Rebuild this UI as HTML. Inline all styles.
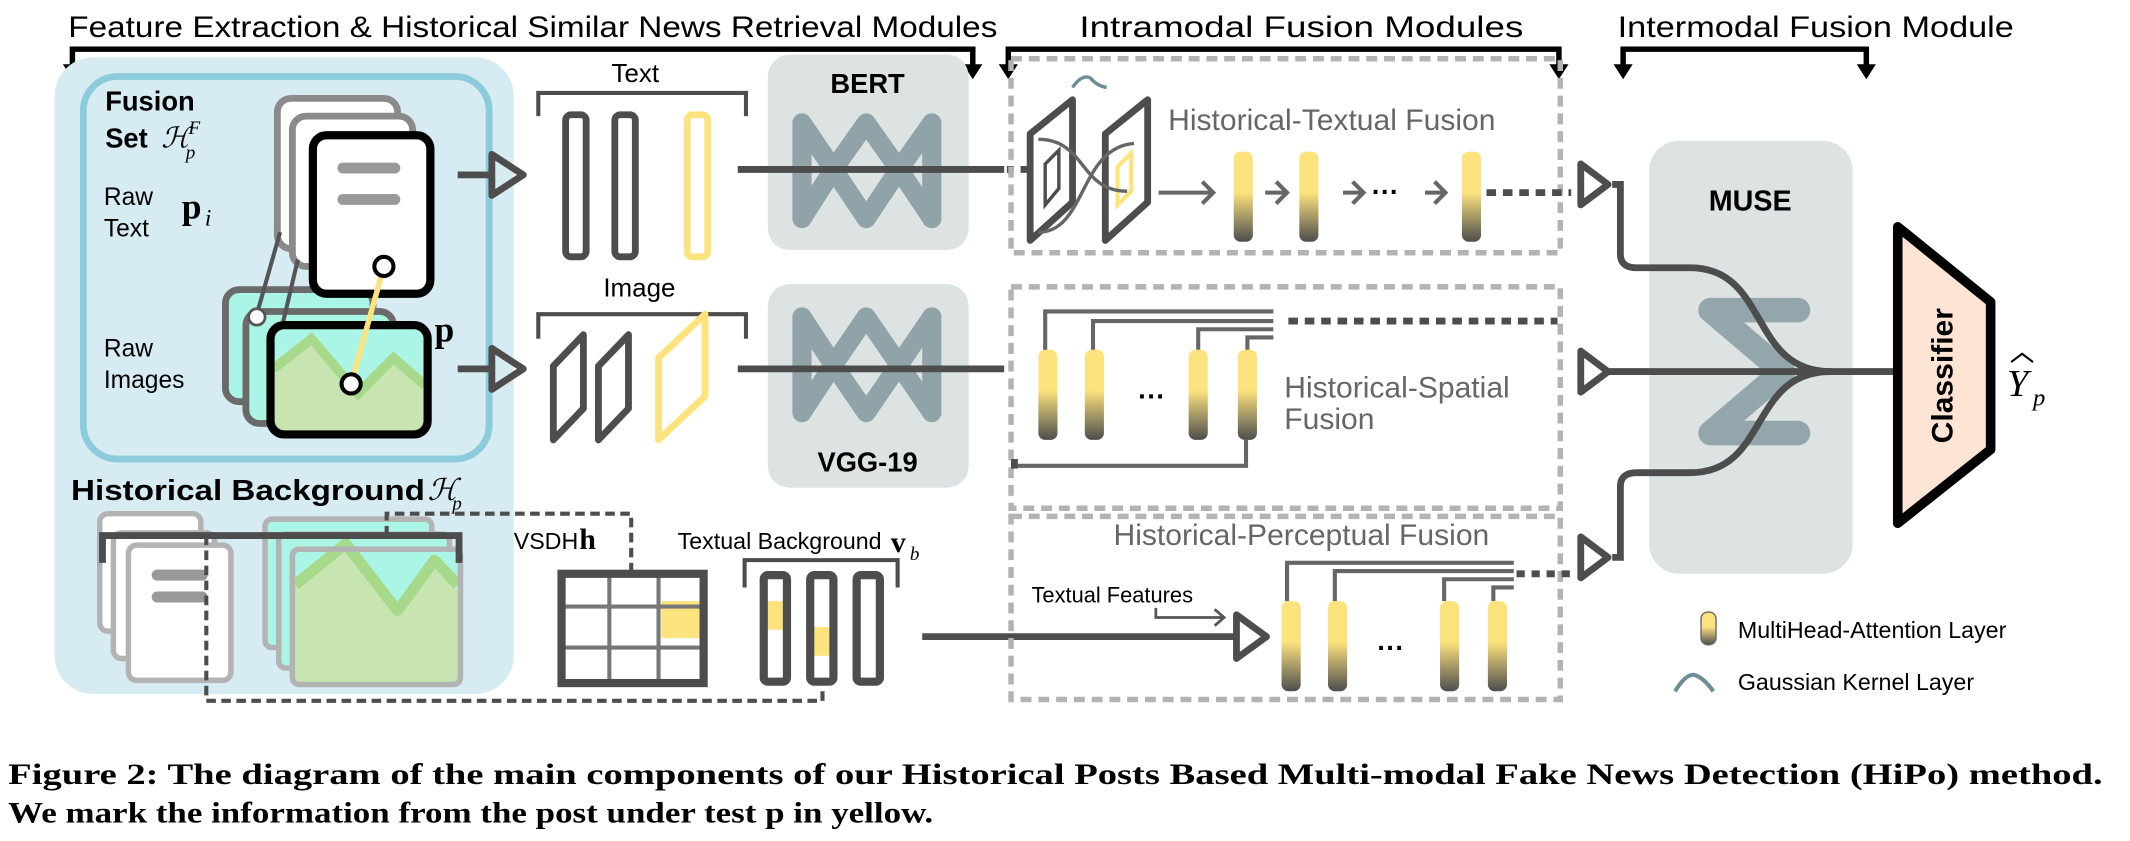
<!DOCTYPE html>
<html><head><meta charset="utf-8"><style>
html,body{margin:0;padding:0;background:#fff;}
svg{display:block;}
text{font-family:"Liberation Sans",sans-serif;}
.s{font-family:"Liberation Serif",serif;}
</style></head><body>
<svg width="2130" height="841" viewBox="0 0 1559 615.6" preserveAspectRatio="none" xmlns="http://www.w3.org/2000/svg">
<defs>
<linearGradient id="mh" x1="0" y1="0" x2="0" y2="1">
<stop offset="0" stop-color="#fde37d"/><stop offset="0.45" stop-color="#fde37d"/><stop offset="1" stop-color="#4d4d4d"/>
</linearGradient>
<g id="bar"><rect x="-7" y="0" width="14" height="66" rx="5" fill="url(#mh)"/></g>
</defs>

<!-- header texts -->
<text x="50" y="27" font-size="22" textLength="680" lengthAdjust="spacingAndGlyphs">Feature Extraction &amp; Historical Similar News Retrieval Modules</text>
<text x="790" y="27" font-size="22" textLength="325" lengthAdjust="spacingAndGlyphs">Intramodal Fusion Modules</text>
<text x="1184" y="27" font-size="22" textLength="290" lengthAdjust="spacingAndGlyphs">Intermodal Fusion Module</text>
<g stroke="#000" stroke-width="4" fill="none">
<polyline points="53,52 53,36 712,36 712,52"/>
<polyline points="738,52 738,36 1141,36 1141,52"/>
<polyline points="1188,52 1188,36 1366,36 1366,52"/>
</g>
<g fill="#000">
<polygon points="46,47 60,47 53,58"/><polygon points="705,47 719,47 712,58"/>
<polygon points="731,47 745,47 738,58"/><polygon points="1134,47 1148,47 1141,58"/>
<polygon points="1181,47 1195,47 1188,58"/><polygon points="1359,47 1373,47 1366,58"/>
</g>

<!-- left big panel -->
<rect x="40" y="42" width="336" height="466" rx="28" fill="#d7ecf2"/>
<rect x="61" y="56" width="297" height="280" rx="25" fill="none" stroke="#8ccbdc" stroke-width="5"/>
<text x="77" y="81" font-size="20" font-weight="bold">Fusion</text>
<text x="77" y="108" font-size="20" font-weight="bold">Set</text>
<text x="118" y="108" font-size="21" class="s" font-style="italic">ℋ</text>
<text x="138" y="98" font-size="14" class="s" font-style="italic">F</text>
<text x="136" y="116" font-size="14" class="s" font-style="italic">p</text>
<text x="76" y="150" font-size="18">Raw</text>
<text x="76" y="173" font-size="18">Text</text>
<text x="76" y="261" font-size="18">Raw</text>
<text x="76" y="284" font-size="18">Images</text>
<text x="133" y="160" font-size="26" class="s" font-weight="bold">p</text>
<text x="150" y="165" font-size="17" class="s" font-style="italic">i</text>

<!-- docs -->
<rect x="203" y="72" width="88" height="110" rx="10" fill="#fff" stroke="#8a8a8a" stroke-width="5"/>
<rect x="214" y="85" width="88" height="110" rx="10" fill="#fff" stroke="#8a8a8a" stroke-width="5"/>
<!-- images stack -->
<rect x="165" y="212" width="108" height="82" rx="10" fill="#aaf5e6" stroke="#6a6a6a" stroke-width="5"/>
<rect x="180" y="228" width="108" height="82" rx="10" fill="#aaf5e6" stroke="#6a6a6a" stroke-width="5"/>
<line x1="188" y1="230" x2="205" y2="170" stroke="#555" stroke-width="3"/>
<line x1="205" y1="245" x2="218" y2="190" stroke="#555" stroke-width="3"/>
<circle cx="188" cy="232" r="6" fill="#fff" stroke="#555" stroke-width="2"/>
<rect x="198" y="238" width="115" height="80" rx="10" fill="#aaf5e6"/>
<polygon points="200,275 228,250 262,290 288,262 311,285 311,316 200,316" fill="#c8e4b0"/>
<polyline points="200,270 228,248 262,288 288,262 311,282" fill="none" stroke="#a6d98a" stroke-width="7"/>
<rect x="198" y="238" width="115" height="80" rx="10" fill="none" stroke="#000" stroke-width="6"/>
<rect x="229" y="99" width="86" height="116" rx="10" fill="#fff" stroke="#000" stroke-width="6"/>
<line x1="251" y1="123" x2="289" y2="123" stroke="#999" stroke-width="8" stroke-linecap="round"/>
<line x1="251" y1="146" x2="289" y2="146" stroke="#999" stroke-width="8" stroke-linecap="round"/>
<line x1="281" y1="195" x2="257" y2="281" stroke="#fde37d" stroke-width="4"/>
<circle cx="281" cy="195" r="7" fill="#fff" stroke="#000" stroke-width="3"/>
<circle cx="257" cy="281" r="7" fill="#fff" stroke="#000" stroke-width="3"/>
<text x="318" y="250" font-size="26" class="s" font-weight="bold">p</text>

<!-- arrows left -->
<g stroke="#4d4d4d" stroke-width="5" fill="none" stroke-linejoin="round">
<line x1="335" y1="128" x2="360" y2="128"/><polygon points="360,113 383,128 360,143"/>
<line x1="335" y1="270" x2="360" y2="270"/><polygon points="360,255 383,270 360,285"/>
</g>

<!-- text bars -->
<text x="465" y="60" font-size="19" text-anchor="middle">Text</text>
<polyline points="394,85 394,68 546,68 546,85" fill="none" stroke="#4d4d4d" stroke-width="3"/>
<rect x="414" y="84" width="15" height="104" rx="4" fill="#fff" stroke="#4d4d4d" stroke-width="5"/>
<rect x="450" y="84" width="15" height="104" rx="4" fill="#fff" stroke="#4d4d4d" stroke-width="5"/>
<rect x="503" y="84" width="15" height="104" rx="4" fill="#fff" stroke="#fde37d" stroke-width="5"/>
<text x="468" y="217" font-size="19" text-anchor="middle">Image</text>
<polyline points="394,248 394,230 546,230 546,248" fill="none" stroke="#4d4d4d" stroke-width="3"/>
<g stroke-width="5" fill="#fff" stroke-linejoin="round">
<polygon points="405,268 427,245 427,299 405,322" stroke="#4d4d4d"/>
<polygon points="438,268 460,245 460,299 438,322" stroke="#4d4d4d"/>
<polygon points="482,262 516,230 516,290 482,322" stroke="#fde37d"/>
</g>

<!-- BERT / VGG -->
<rect x="562" y="40" width="147" height="143" rx="16" fill="#dde3e2"/>
<rect x="562" y="208" width="147" height="149" rx="16" fill="#dde3e2"/>
<text x="635" y="68" font-size="20" font-weight="bold" text-anchor="middle">BERT</text>
<text x="635" y="345" font-size="20" font-weight="bold" text-anchor="middle">VGG-19</text>
<g stroke="#8fa3a8" stroke-width="14" fill="none" stroke-linecap="round" stroke-linejoin="round">
<polyline points="587,90 587,160"/><polyline points="682,90 682,160"/>
<polyline points="587,90 610,124 634,90 658,124 682,90"/>
<polyline points="587,160 610,124 634,160 658,124 682,160"/>
<polyline points="587,232 587,302"/><polyline points="682,232 682,302"/>
<polyline points="587,232 610,267 634,232 658,267 682,232"/>
<polyline points="587,302 610,267 634,302 658,267 682,302"/>
</g>
<line x1="540" y1="124" x2="735" y2="124" stroke="#4d4d4d" stroke-width="5"/>
<line x1="540" y1="270" x2="735" y2="270" stroke="#4d4d4d" stroke-width="5"/>
<line x1="737" y1="124" x2="752" y2="124" stroke="#4d4d4d" stroke-width="5" stroke-dasharray="5,5"/>

<!-- historical background -->
<text x="52" y="366" font-size="21" font-weight="bold" textLength="259" lengthAdjust="spacingAndGlyphs">Historical Background</text>
<text x="313" y="366" font-size="22" class="s" font-style="italic">ℋ</text>
<text x="331" y="373" font-size="14" class="s" font-style="italic">p</text>
<g fill="#fff" stroke="#b3b3b3" stroke-width="4">
<rect x="73" y="376" width="74" height="86" rx="6"/>
<rect x="83" y="390" width="74" height="92" rx="6"/>
<rect x="94" y="399" width="75" height="99" rx="6"/>
</g>
<line x1="115" y1="421" x2="148" y2="421" stroke="#999" stroke-width="8" stroke-linecap="round"/>
<line x1="115" y1="437" x2="148" y2="437" stroke="#999" stroke-width="8" stroke-linecap="round"/>
<g stroke="#b3b3b3" stroke-width="4" fill="#aaf5e6">
<rect x="194" y="380" width="122" height="94" rx="5"/>
<rect x="204" y="391" width="125" height="98" rx="5"/>
<rect x="214" y="402" width="123" height="99" rx="5"/>
</g>
<polygon points="216,428 253,404 291,452 318,415 335,432 335,499 216,499" fill="#c8e4b0"/>
<polyline points="216,428 253,398 291,447 318,410 335,428" fill="none" stroke="#a6d98a" stroke-width="8" stroke-linejoin="round"/>
<rect x="214" y="402" width="123" height="99" rx="5" fill="none" stroke="#b3b3b3" stroke-width="4"/>
<polyline points="75,412 75,392 336,392 336,412" fill="none" stroke="#4d4d4d" stroke-width="5"/>
<g fill="none" stroke="#4d4d4d" stroke-width="3" stroke-dasharray="7,4">
<polyline points="283,392 283,376 462,376 462,418"/>
<polyline points="151,392 151,513 602,513 602,505"/>
</g>
<text x="376" y="402" font-size="17">VSDH</text>
<text x="424" y="402" font-size="22" class="s" font-weight="bold">h</text>
<rect x="411" y="420" width="104" height="80" fill="#fff"/>
<rect x="484" y="440" width="28" height="27" fill="#fde37d"/>
<g stroke="#777" stroke-width="3"><line x1="411" y1="444" x2="515" y2="444"/><line x1="411" y1="474" x2="515" y2="474"/><line x1="446" y1="420" x2="446" y2="500"/><line x1="482" y1="420" x2="482" y2="500"/></g>
<rect x="411" y="420" width="104" height="80" fill="none" stroke="#4d4d4d" stroke-width="6"/>
<text x="496" y="402" font-size="17">Textual Background</text>
<text x="652" y="404" font-size="22" class="s" font-weight="bold">v</text>
<text x="666" y="410" font-size="14" class="s" font-style="italic">b</text>
<polyline points="545,430 545,410 657,410 657,430" fill="none" stroke="#4d4d4d" stroke-width="3"/>
<rect x="560" y="440" width="14" height="21" fill="#fde37d"/>
<rect x="595" y="459" width="14" height="21" fill="#fde37d"/>
<g fill="none" stroke="#4d4d4d" stroke-width="6">
<rect x="559" y="421" width="17" height="78" rx="3"/><rect x="593" y="421" width="17" height="78" rx="3"/><rect x="627" y="421" width="17" height="78" rx="3"/>
</g>
<line x1="675" y1="466" x2="905" y2="466" stroke="#4d4d4d" stroke-width="5"/>
<polygon points="905,450 927,466 905,482" fill="#fff" stroke="#4d4d4d" stroke-width="5" stroke-linejoin="round"/>
<text x="755" y="441" font-size="16">Textual Features</text>
<polyline points="846,445 846,452 895,452" fill="none" stroke="#555" stroke-width="2"/>
<polyline points="889,446 896,452 889,458" fill="none" stroke="#555" stroke-width="2"/>

<!-- dashed boxes -->
<g fill="none" stroke="#b3b3b3" stroke-width="4" stroke-dasharray="8,5">
<rect x="740" y="43" width="402" height="142"/>
<rect x="740" y="210" width="402" height="162"/>
<rect x="740" y="378" width="402" height="134"/>
</g>
<text x="855" y="95" font-size="22" fill="#666">Historical-Textual Fusion</text>
<text x="940" y="291" font-size="22" fill="#666">Historical-Spatial</text>
<text x="940" y="314" font-size="22" fill="#666">Fusion</text>
<text x="815" y="399" font-size="22" fill="#666">Historical-Perceptual Fusion</text>

<!-- textual fusion -->
<path d="M785,64 Q792,54 798,57 Q803,63 810,64" fill="none" stroke="#6e8d94" stroke-width="2.5"/>
<g fill="#fff" stroke="#4d4d4d" stroke-width="5" stroke-linejoin="round">
<polygon points="754,98 785,73 785,148 754,176"/>
<polygon points="809,98 840,73 840,148 809,176"/>
</g>
<polygon points="765,120 775,110 775,138 765,150" fill="none" stroke="#4d4d4d" stroke-width="2.5"/>
<polygon points="818,122 828,112 828,140 818,150" fill="none" stroke="#fde37d" stroke-width="3"/>
<path d="M760,102 C795,102 790,140 825,140 M760,170 C795,170 790,108 830,105" fill="none" stroke="#666" stroke-width="2.5"/>
<g stroke="#666" stroke-width="3" fill="none">
<line x1="848" y1="141" x2="888" y2="141"/><polyline points="880,133 888,141 880,149"/>
<line x1="926" y1="141" x2="942" y2="141"/><polyline points="934,133 942,141 934,149"/>
<line x1="983" y1="141" x2="998" y2="141"/><polyline points="990,133 998,141 990,149"/>
<line x1="1043" y1="141" x2="1058" y2="141"/><polyline points="1050,133 1058,141 1050,149"/>
</g>
<text x="1014" y="147" font-size="20" font-weight="bold" text-anchor="middle">···</text>
<use href="#bar" x="910" y="111"/><use href="#bar" x="958" y="111"/><use href="#bar" x="1077" y="111"/>
<line x1="1088" y1="141" x2="1150" y2="141" stroke="#4d4d4d" stroke-width="5" stroke-dasharray="7,5"/>

<!-- spatial fusion -->
<g fill="none" stroke="#666" stroke-width="3">
<polyline points="765,258 765,228 932,228"/>
<polyline points="800,258 800,235 932,235"/>
<polyline points="877,258 877,241 932,241"/>
<polyline points="913,258 913,247 932,247"/>
<polyline points="745,341 912,341 912,322 M765,322 765,341 M800,322 800,341 M877,322 877,341"/>
</g>
<line x1="943" y1="235" x2="1140" y2="235" stroke="#4d4d4d" stroke-width="5" stroke-dasharray="7,5"/>
<rect x="740" y="336" width="5" height="7" fill="#4d4d4d"/>
<use href="#bar" x="767" y="256"/><use href="#bar" x="801" y="256"/><use href="#bar" x="877" y="256"/><use href="#bar" x="913" y="256"/>
<text x="843" y="297" font-size="20" font-weight="bold" text-anchor="middle">···</text>

<!-- perceptual fusion -->
<g fill="none" stroke="#666" stroke-width="3">
<polyline points="942,440 942,412 1108,412"/>
<polyline points="977,440 977,418 1108,418"/>
<polyline points="1057,440 1057,424 1108,424"/>
<polyline points="1093,440 1093,430 1108,430"/>
</g>
<line x1="1110" y1="420" x2="1152" y2="420" stroke="#4d4d4d" stroke-width="5" stroke-dasharray="6,5"/>
<use href="#bar" x="945" y="440"/><use href="#bar" x="979" y="440"/><use href="#bar" x="1061" y="440"/><use href="#bar" x="1096" y="440"/>
<text x="1018" y="481" font-size="20" font-weight="bold" text-anchor="middle">···</text>

<!-- right triangles -->
<g fill="#fff" stroke="#4d4d4d" stroke-width="5" stroke-linejoin="round">
<polygon points="1157,120 1177,135 1157,150"/>
<polygon points="1157,257 1177,272 1157,287"/>
<polygon points="1157,393 1177,408 1157,423"/>
</g>

<!-- MUSE -->
<rect x="1207" y="103" width="149" height="317" rx="22" fill="#dde3e2"/>
<text x="1281" y="154" font-size="21" font-weight="bold" text-anchor="middle">MUSE</text>
<g stroke="#93a6ac" stroke-width="18" fill="none" stroke-linecap="round" stroke-linejoin="round">
<polyline points="1316,227 1252,227 1305,272 1252,317 1316,317"/>
</g>
<g fill="none" stroke="#4d4d4d" stroke-width="5">
<path d="M1180,135 H1186 V186 Q1186,196 1198,196 H1237 C1295,196 1280,272 1340,272"/>
<path d="M1180,408 H1186 V356 Q1186,346 1198,346 H1237 C1295,346 1280,272 1340,272"/>
<line x1="1178" y1="272" x2="1392" y2="272"/>
</g>

<!-- classifier -->
<polygon points="1389,166 1457,221 1457,329 1389,383" fill="#fde4d5" stroke="#000" stroke-width="7" stroke-linejoin="round"/>
<text x="0" y="0" font-size="22" font-weight="bold" text-anchor="middle" transform="translate(1429,275) rotate(-90)">Classifier</text>
<text x="1469" y="290" font-size="28" class="s" font-style="italic">Y</text>
<path d="M1472,265 L1480,259 L1488,265" fill="none" stroke="#000" stroke-width="1.5"/>
<text x="1488" y="297" font-size="18" class="s" font-style="italic">p</text>

<!-- legend -->
<rect x="1245" y="448" width="11" height="24" rx="5" fill="url(#mh)" stroke="#666" stroke-width="1"/>
<text x="1272" y="467" font-size="17">MultiHead-Attention Layer</text>
<path d="M1226,506 Q1234,493 1240,494 Q1247,496 1254,506" fill="none" stroke="#6e8d94" stroke-width="3"/>
<text x="1272" y="505" font-size="17">Gaussian Kernel Layer</text>

<!-- caption -->
<text x="6" y="574" font-size="22" class="s" font-weight="bold" textLength="1533" lengthAdjust="spacingAndGlyphs">Figure 2: The diagram of the main components of our Historical Posts Based Multi-modal Fake News Detection (HiPo) method.</text>
<text x="6" y="602" font-size="22" class="s" font-weight="bold" textLength="677" lengthAdjust="spacingAndGlyphs">We mark the information from the post under test p in yellow.</text>
</svg>
</body></html>
